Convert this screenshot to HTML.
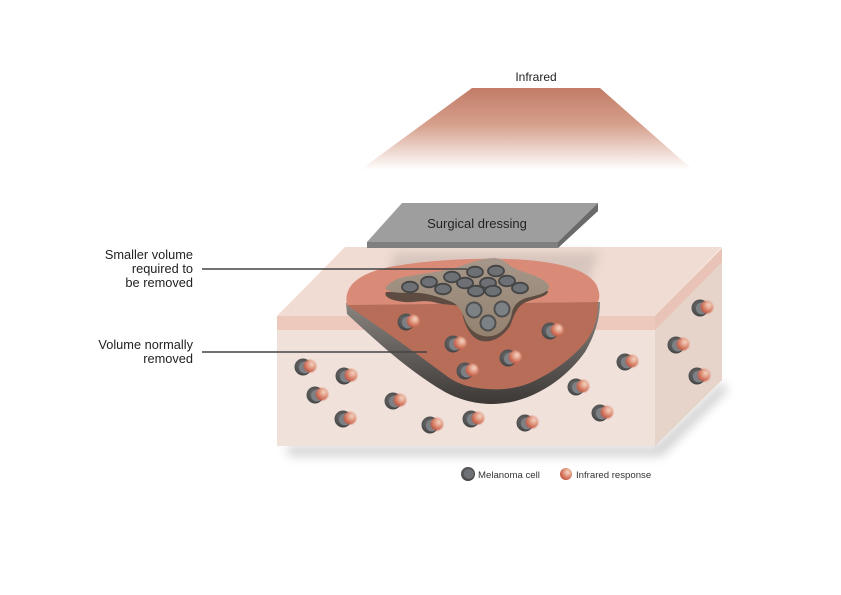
<!DOCTYPE html>
<html><head><meta charset="utf-8"><style>
html,body{margin:0;padding:0;background:#fff;}
svg{display:block;font-family:"Liberation Sans",Arial,sans-serif;}
</style></head><body>
<svg width="841" height="595" viewBox="0 0 841 595" xmlns="http://www.w3.org/2000/svg">
<defs>
  <linearGradient id="ir" x1="0" y1="0" x2="0" y2="1">
    <stop offset="0" stop-color="#c27b66"/>
    <stop offset="0.45" stop-color="#d6a08d"/>
    <stop offset="1" stop-color="#ffffff"/>
  </linearGradient>
  <radialGradient id="red" cx="0.65" cy="0.35" r="0.7">
    <stop offset="0" stop-color="#f5d8c8"/>
    <stop offset="0.45" stop-color="#e29a82"/>
    <stop offset="1" stop-color="#c2503a"/>
  </radialGradient>
  <radialGradient id="dark" cx="0.4" cy="0.4" r="0.7">
    <stop offset="0" stop-color="#6a6a6a"/>
    <stop offset="1" stop-color="#3e3e3e"/>
  </radialGradient>
  <linearGradient id="rim" x1="0" y1="0" x2="0" y2="1">
    <stop offset="0" stop-color="#8a8580"/>
    <stop offset="1" stop-color="#3c3836"/>
  </linearGradient>
  <linearGradient id="tum" x1="0" y1="0" x2="0" y2="1">
    <stop offset="0" stop-color="#a5978a"/>
    <stop offset="1" stop-color="#94826f"/>
  </linearGradient>
  <filter id="blur3" x="-20%" y="-50%" width="140%" height="200%"><feGaussianBlur stdDeviation="5"/></filter>
  <filter id="blur1" x="-50%" y="-50%" width="200%" height="200%"><feGaussianBlur stdDeviation="0.9"/></filter>
  <g id="cell">
    <circle cx="0" cy="0" r="8.5" fill="url(#dark)"/>
    <circle cx="2" cy="0.5" r="6" fill="#7c8186"/>
    <circle cx="7" cy="-1" r="6.3" fill="url(#red)" filter="url(#blur1)"/>
  </g>
</defs>

<!-- Infrared beam -->
<polygon points="472,88 600,88 693,170 360,170" fill="url(#ir)"/>
<text x="536" y="81" font-size="12" text-anchor="middle" fill="#222">Infrared</text>

<!-- Box shadow -->
<polygon points="285,446 655,446 722,382 728,390 662,456 290,456" fill="#9a9a9a" opacity="0.45" filter="url(#blur3)"/>

<!-- Box faces -->
<polygon points="277,316 345,247 722,247 655,316" fill="#f1dcd3"/>
<polygon points="277,316 655,316 655,446 277,446" fill="#f0e1db"/>
<rect x="277" y="316" width="378" height="14" fill="#edc9bd"/>
<polygon points="655,316 722,248 722,380 655,446" fill="#e6d3c9"/>
<polygon points="655,316 722,248 722,262 655,330" fill="#e9c3b6"/>

<!-- dressing shadow on top -->
<polygon points="395,252 600,252 580,300 380,300" fill="#8a8580" opacity="0.25" filter="url(#blur3)"/>

<!-- Excision bowl rim -->
<path d="M346,303 L347,314 C375,340 410,372 445,392 C462,401 478,404 492,404 C530,404 565,380 585,352 C595,335 600,318 600,302 Z" fill="url(#rim)"/>
<!-- cut face -->
<path d="M348,305 L598,302 C598,322 592,336 582,346 C570,360 550,374 530,383 C515,389 500,390 487,389 C470,388 458,384 448,377 C425,360 390,334 348,306 Z" fill="#b86d58"/>
<!-- top surface -->
<path d="M347,305 C343,285 360,272 395,266 C430,260 470,258 510,259 C555,261 585,268 596,284 C600,292 600,298 598,302 Z" fill="#d98b77"/>

<!-- Tumor -->
<path d="M386,292 C383,297 392,301 405,302 C415,303 425,299 437,303 C450,306 458,303 462,310 C463,322 470,339 482,341 C494,343 504,335 510,326 C514,316 516,308 524,303 C535,298 548,297 548,291 Z" fill="#5e4c42"/>
<path d="M385,288 C392,280 400,277 410,276 C425,273 440,272 455,268 C468,264 480,258 495,258 C505,259 508,266 518,270 C530,274 545,278 549,286 C550,292 540,295 526,298 C518,301 514,305 512,312 C511,322 503,334 492,336 C481,338 471,332 466,322 C463,314 460,306 452,302 C442,298 430,294 420,293 C405,292 392,295 385,288 Z" fill="url(#tum)"/>
<!-- tumor top cells -->
<g fill="#6d7175" stroke="#454545" stroke-width="1.8">
  <ellipse cx="410" cy="287" rx="8" ry="5.3"/>
  <ellipse cx="429" cy="282" rx="8" ry="5.3"/>
  <ellipse cx="443" cy="289" rx="8" ry="5.3"/>
  <ellipse cx="452" cy="277" rx="8" ry="5.3"/>
  <ellipse cx="465" cy="283" rx="8" ry="5.3"/>
  <ellipse cx="475" cy="272" rx="8" ry="5.3"/>
  <ellipse cx="476" cy="291" rx="8" ry="5.3"/>
  <ellipse cx="488" cy="283" rx="8" ry="5.3"/>
  <ellipse cx="496" cy="271" rx="8" ry="5.3"/>
  <ellipse cx="493" cy="291" rx="8" ry="5.3"/>
  <ellipse cx="507" cy="281" rx="8" ry="5.3"/>
  <ellipse cx="520" cy="288" rx="8" ry="5.3"/>
</g>
<!-- tumor lobe cells -->
<g fill="#7c8186" stroke="#4f4f4f" stroke-width="2">
  <circle cx="474" cy="310" r="7.5"/>
  <circle cx="502" cy="309" r="7.5"/>
  <circle cx="488" cy="323" r="7.5"/>
</g>

<!-- Cells with infrared response -->
<use href="#cell" x="406" y="322"/>
<use href="#cell" x="550" y="331"/>
<use href="#cell" x="453" y="344"/>
<use href="#cell" x="508" y="358"/>
<use href="#cell" x="465" y="371"/>
<use href="#cell" x="303" y="367"/>
<use href="#cell" x="344" y="376"/>
<use href="#cell" x="315" y="395"/>
<use href="#cell" x="393" y="401"/>
<use href="#cell" x="343" y="419"/>
<use href="#cell" x="430" y="425"/>
<use href="#cell" x="471" y="419"/>
<use href="#cell" x="525" y="423"/>
<use href="#cell" x="576" y="387"/>
<use href="#cell" x="625" y="362"/>
<use href="#cell" x="600" y="413"/>
<use href="#cell" x="700" y="308"/>
<use href="#cell" x="676" y="345"/>
<use href="#cell" x="697" y="376"/>

<!-- Dressing -->
<polygon points="402,203 598,203 558,242 367,242" fill="#9e9e9e"/>
<polygon points="367,242 558,242 558,248 367,248" fill="#7f7f7f"/>
<polygon points="598,203 598,211 558,248 558,242" fill="#6a6a6a"/>
<text x="477" y="228" font-size="13" text-anchor="middle" fill="#222">Surgical dressing</text>

<!-- Labels -->
<g font-size="12.8" fill="#222" text-anchor="end">
  <text x="193" y="259">Smaller volume</text>
  <text x="193" y="273">required to</text>
  <text x="193" y="287">be removed</text>
  <text x="193" y="349">Volume normally</text>
  <text x="193" y="363">removed</text>
</g>
<line x1="202" y1="269" x2="467" y2="269" stroke="#444" stroke-width="1.5"/>
<line x1="202" y1="352" x2="427" y2="352" stroke="#444" stroke-width="1.5"/>

<!-- Legend -->
<circle cx="468" cy="474" r="7" fill="url(#dark)"/>
<circle cx="469" cy="474" r="5" fill="#6e7276"/>
<text x="478" y="478" font-size="9.6" fill="#333">Melanoma cell</text>
<circle cx="566" cy="474" r="6" fill="url(#red)"/>
<text x="576" y="478" font-size="9.6" fill="#333">Infrared response</text>
</svg>
</body></html>
